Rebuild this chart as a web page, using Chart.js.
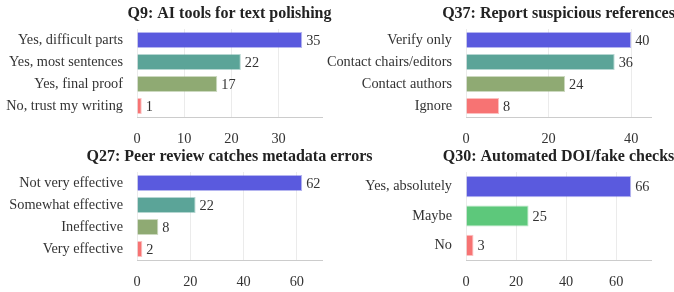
<!DOCTYPE html>
<html>
<head>
<meta charset="utf-8">
<script src="https://cdn.jsdelivr.net/npm/chart.js@4/dist/chart.umd.min.js"></script>
<style>
  html, body { margin: 0; padding: 0; background: #fff; }
  #wrap { position: relative; width: 674px; height: 292px; overflow: hidden; }
  .c { position: absolute; left: 0; width: 674px; height: 146px; }
</style>
</head>
<body>
<div id="wrap">
  <div class="c" style="top:0"><canvas id="c1"></canvas></div>
  <div class="c" style="top:0"><canvas id="c2"></canvas></div>
  <div class="c" style="top:143px"><canvas id="c3"></canvas></div>
  <div class="c" style="top:143px"><canvas id="c4"></canvas></div>
</div>
<script>
// ---- data ----
const q9Title = "Q9: AI tools for text polishing";
const q9Labels = ["Yes, difficult parts", "Yes, most sentences", "Yes, final proof", "No, trust my writing"];
const q9Values = [35, 22, 17, 1];
const q9Ticks = 10;

const q37Title = "Q37: Report suspicious references";
const q37Labels = ["Verify only", "Contact chairs/editors", "Contact authors", "Ignore"];
const q37Values = [40, 36, 24, 8];
const q37Ticks = 20;

const q27Title = "Q27: Peer review catches metadata errors";
const q27Labels = ["Not very effective", "Somewhat effective", "Ineffective", "Very effective"];
const q27Values = [62, 22, 8, 2];
const q27Ticks = 20;

const q30Title = "Q30: Automated DOI/fake checks";
const q30Labels = ["Yes, absolutely", "Maybe", "No"];
const q30Values = [66, 25, 3];
const q30Ticks = 20;

const BLUE = [90, 90, 222], TEAL = [91, 164, 152], OLIVE = [143, 170, 115], RED = [247, 115, 115], GREEN = [93, 200, 123];
const fourColors = [BLUE, TEAL, OLIVE, RED];
const threeColors = [BLUE, GREEN, RED];

const FONT = "'Liberation Serif', 'Times New Roman', serif";

const titlePlugin = {
  id: 'panelTitle',
  afterDraw(chart, args, opts) {
    const ctx = chart.ctx, a = chart.chartArea;
    ctx.save();
    ctx.font = "bold 16px " + FONT;
    ctx.fillStyle = "#222";
    ctx.textAlign = "center";
    ctx.textBaseline = "middle";
    ctx.fillText(opts.text, (a.left + a.right) / 2, 13.5);
    ctx.restore();
  }
};

const valuePlugin = {
  id: 'valueLabels',
  afterDatasetsDraw(chart) {
    const ctx = chart.ctx;
    ctx.save();
    ctx.font = "14.3px " + FONT;
    ctx.fillStyle = "#333";
    ctx.textAlign = "left";
    ctx.textBaseline = "middle";
    chart.data.datasets.forEach((ds, di) => {
      chart.getDatasetMeta(di).data.forEach((bar, i) => {
        ctx.fillText(String(ds.data[i]), bar.x + 4, bar.y + 1);
      });
    });
    ctx.restore();
  }
};

function rgb(c, a) { return `rgba(${c[0]},${c[1]},${c[2]},${a})`; }

function makeChart(id, title, labels, values, colors, step, left) {
  const padLeft = left ? 0 : 300;
  const padRight = left ? 352 : 23;
  const yWidth = left ? 137 : 166;
  new Chart(document.getElementById(id), {
    type: 'bar',
    data: {
      labels: labels,
      datasets: [{
        data: values,
        backgroundColor: colors.map(c => rgb(c, 1)),
        borderColor: colors.map(c => rgb(c, 0.45)),
        borderWidth: 1
      }]
    },
    options: {
      indexAxis: 'y',
      responsive: true,
      maintainAspectRatio: false,
      animation: false,
      layout: { padding: { top: 29, left: padLeft, right: padRight, bottom: 0 } },
      plugins: {
        legend: { display: false },
        tooltip: { enabled: false },
        panelTitle: { text: title }
      },
      scales: {
        x: {
          min: 0,
          max: Math.max(...values) * 1.12,
          grid: { color: '#ebebeb', drawTicks: false, lineWidth: 1 },
          border: { display: true, color: '#cccccc' },
          ticks: { stepSize: step, includeBounds: false, padding: 14, color: '#333', font: { family: FONT, size: 14.3 } },
          afterFit: s => { s.height = 29; }
        },
        y: {
          grid: { display: false, drawTicks: false },
          border: { display: false },
          ticks: { padding: 14, color: '#333', font: { family: FONT, size: 14.3 } },
          afterFit: s => { s.width = yWidth; }
        }
      }
    },
    plugins: [titlePlugin, valuePlugin]
  });
}

makeChart('c1', q9Title, q9Labels, q9Values, fourColors, q9Ticks, true);
makeChart('c2', q37Title, q37Labels, q37Values, fourColors, q37Ticks, false);
makeChart('c3', q27Title, q27Labels, q27Values, fourColors, q27Ticks, true);
makeChart('c4', q30Title, q30Labels, q30Values, threeColors, q30Ticks, false);
</script>
</body>
</html>
